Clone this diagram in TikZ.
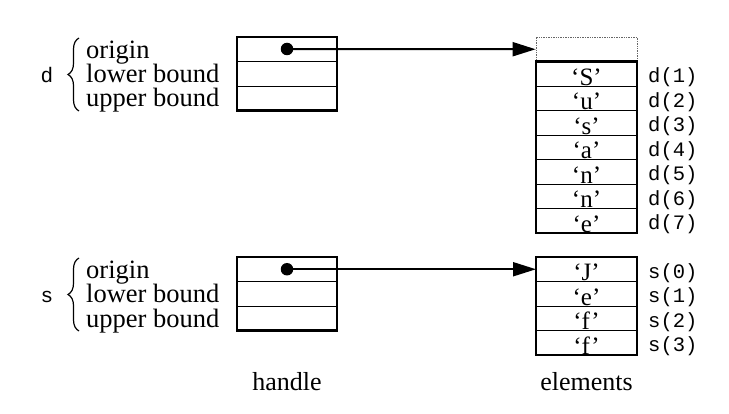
\documentclass[tikz,border=0pt]{standalone}
\usepackage{fontspec}
\setmainfont{Liberation Serif}
\setmonofont{Liberation Mono}
\usetikzlibrary{arrows.meta,decorations.pathreplacing}
\begin{document}
\begin{tikzpicture}[x=1pt,y=-1pt,
  hrow/.style={draw, line width=0.8pt, minimum width=100pt, minimum height=24.5pt, inner sep=0pt, outer sep=0pt},
  erow/.style={draw, line width=0.8pt, minimum width=101pt, minimum height=24.5pt, inner sep=0pt, outer sep=0pt},
  outerbox/.style={draw, line width=2.2pt},
  dashbox/.style={draw=black!60, densely dotted, line width=0.7pt, minimum width=101pt, minimum height=24.5pt, inner sep=0pt},
  fieldtxt/.style={anchor=base west, inner sep=0pt, font=\fontsize{26.5}{26.5}\selectfont},
  elemtxt/.style={anchor=base, inner sep=0pt, font=\fontsize{25}{25}\selectfont},
  idxtxt/.style={anchor=base west, inner sep=0pt, font=\ttfamily\fontsize{20.5}{20.5}\selectfont},
  vartxt/.style={anchor=base, inner sep=0pt, font=\ttfamily\fontsize{21}{21}\selectfont},
  captxt/.style={anchor=base, inner sep=0pt, font=\fontsize{26}{26}\selectfont},
  ptr/.style={circle, fill=black, inner sep=0pt, minimum size=12.5pt},
  arr/.style={line width=2pt, -{Triangle[length=23pt,width=14pt]}},
  bracestyle/.style={line width=1.2pt, decorate, decoration={brace, amplitude=11pt}}
]
\useasboundingbox (0,0) rectangle (729,414);

% ---------- d : handle ----------
\node[vartxt] (dname) at (47,83) {d};
\draw[bracestyle] (79,111) -- (79,38);
\node[fieldtxt] (dorig) at (86,59) {origin};
\node[fieldtxt] (dlow) at (86,83) {lower bound};
\node[fieldtxt] (dup) at (86,107) {upper bound};
\foreach \i in {0,1,2} {
  \node[hrow] (dh\i) at (287,{37+12.25+24.5*\i}) {};
}
\draw[outerbox] (dh0.north west) rectangle (dh2.south east);
\node[ptr] (dptr) at (287,49) {};

% ---------- d : elements ----------
\node[dashbox] (dtop) at (586.5,49.25) {};
\foreach \c [count=\i] in {S,u,s,a,n,n,e} {
  \node[erow] (de\i) at (586.5,{61.5+24.5*\i-12.25}) {};
  \node[elemtxt] (dc\i) at (586.5,{61.5+24.5*\i-0.5}) {‘\c’};
  \node[idxtxt] (di\i) at (648,{61.5+24.5*\i-3}) {d(\i)};
}
\draw[outerbox] (de1.north west) rectangle (de7.south east);
\draw[arr] (dptr.center) -- (dtop.west);

% ---------- s : handle ----------
\node[vartxt] (sname) at (47,303) {s};
\draw[bracestyle] (79,331) -- (79,258);
\node[fieldtxt] (sorig) at (86,279) {origin};
\node[fieldtxt] (slow) at (86,303) {lower bound};
\node[fieldtxt] (sup) at (86,327) {upper bound};
\foreach \i in {0,1,2} {
  \node[hrow] (sh\i) at (287,{257+12.25+24.5*\i}) {};
}
\draw[outerbox] (sh0.north west) rectangle (sh2.south east);
\node[ptr] (sptr) at (287,269.25) {};

% ---------- s : elements ----------
\foreach \c [count=\i from 0] in {J,e,f,f} {
  \node[erow] (se\i) at (586.5,{257+24.5*\i+12.25}) {};
  \node[elemtxt] (sc\i) at (586.5,{257+24.5*\i+24}) {‘\c’};
  \node[idxtxt] (si\i) at (648,{257+24.5*\i+21.5}) {s(\i)};
}
\draw[outerbox] (se0.north west) rectangle (se3.south east);
\draw[arr] (sptr.center) -- (se0.west);

% ---------- captions ----------
\node[captxt] (caph) at (287,390) {handle};
\node[captxt] (cape) at (586.5,390) {elements};
\end{tikzpicture}
\end{document}
